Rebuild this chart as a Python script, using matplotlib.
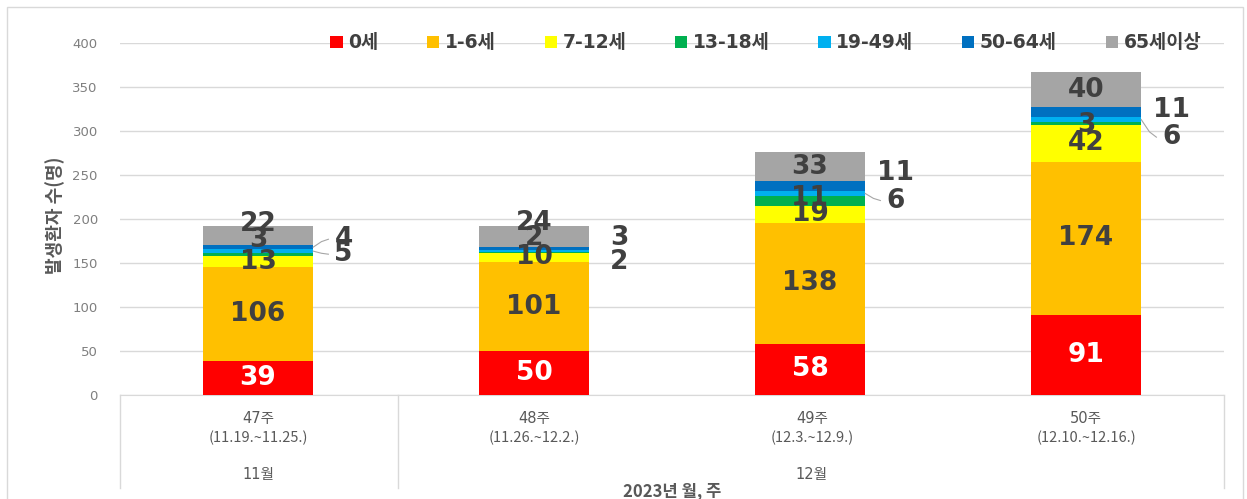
import matplotlib
matplotlib.use("Agg")
import matplotlib.pyplot as plt
import matplotlib.patches as patches
from matplotlib.lines import Line2D
import numpy as np

# 데이터
weeks = ["47주", "48주", "49주", "50주"]
week_ranges = ["(11.19.~11.25.)", "(11.26.~12.2.)", "(12.3.~12.9.)", "(12.10.~12.16.)"]
months = ["11월", "12월"]
age_groups = ["0세", "1-6세", "7-12세", "13-18세", "19-49세", "50-64세", "65세이상"]
age_0 = [39, 50, 58, 91]
age_1_6 = [106, 101, 138, 174]
age_7_12 = [13, 10, 19, 42]
age_13_18 = [3, 2, 11, 3]
age_19_49 = [5, 2, 6, 6]
age_50_64 = [4, 3, 11, 11]
age_65 = [22, 24, 33, 40]
y_ticks = [0, 50, 100, 150, 200, 250, 300, 350, 400]

colors = ["#FF0000", "#FFC000", "#FFFF00", "#00B050", "#00B0F0", "#0070C0", "#A5A5A5"]
series = [age_0, age_1_6, age_7_12, age_13_18, age_19_49, age_50_64, age_65]

# 라벨 배치 (엑셀 자동 배치 흉내) : (주, 계열) -> (y, 바깥?, 지시선?)
label_pos = {
    (0, 3): (176, False, False), (0, 4): (160, True, True), (0, 5): (177, True, True), (0, 6): (194, False, False),
    (1, 2): (157, False, False), (1, 3): (178, False, False), (1, 4): (151, True, False),
    (1, 5): (178, True, False), (1, 6): (195, False, False),
    (2, 3): (224, False, False), (2, 4): (221, True, True), (2, 5): (252, True, False),
    (3, 3): (307, False, False), (3, 4): (293, True, True), (3, 5): (324, True, False),
}

W, H = 1247, 499
fig = plt.figure(figsize=(W / 100, H / 100), dpi=100)
fig.patch.set_facecolor("white")


def fx(px):
    return px / W


def fy(py):
    return 1 - py / H


ax = fig.add_axes([fx(120), fy(395), fx(1224) - fx(120), fy(43) - fy(395)])
x = np.arange(len(weeks))
bottom = np.zeros(len(weeks))
bar_w = 0.4
for si, vals in enumerate(series):
    vals = np.array(vals, dtype=float)
    ax.bar(x, vals, bar_w, bottom=bottom, color=colors[si], label=age_groups[si], zorder=3)
    for wi in range(len(weeks)):
        mid = bottom[wi] + vals[wi] / 2
        ly, outside, leader = label_pos.get((wi, si), (mid, False, False))
        txt_color = "white" if si == 0 else "#404040"
        if outside:
            lx = x[wi] + 0.31
            if leader:
                ax.plot([x[wi] + bar_w / 2, x[wi] + 0.23, x[wi] + 0.255], [mid, mid + (ly - mid) * 0.7, ly],
                        color="#A6A6A6", lw=0.8, zorder=4)
        else:
            lx = x[wi]
        ax.text(lx, ly, str(int(vals[wi])), ha="center", va="center", fontsize=19,
                fontweight="bold", color=txt_color, family="DejaVu Sans", zorder=5)
    bottom += vals

ax.set_xlim(-0.5, len(weeks) - 0.5)
ax.set_ylim(0, 400)
ax.set_yticks(y_ticks)
ax.set_yticklabels([str(t) for t in y_ticks], color="#7F7F7F", fontsize=9.5, family="DejaVu Sans")
ax.tick_params(axis="y", length=0, pad=16)
ax.set_xticks([])
ax.grid(axis="y", color="#D9D9D9", lw=1, zorder=0)
for s in ["top", "right", "left"]:
    ax.spines[s].set_visible(False)
ax.spines["bottom"].set_color("#D9D9D9")

ax.legend(loc="center", bbox_to_anchor=(0.585, 1.0), ncol=7, frameon=False,
          handlelength=0.65, handleheight=0.65, handletextpad=0.3, columnspacing=2.6,
          prop={"family": ["DejaVu Sans", "Noto Sans CJK KR"], "weight": "bold", "size": 13.5},
          labelcolor="#404040")

fig.text(fx(55), fy(215), "발생환자 수(명)", rotation=90, ha="center", va="center",
         fontsize=13, fontweight="bold", color="#595959", family="Noto Sans CJK KR")

# 아래 분류 표
for px in [120, 398, 1224]:
    fig.add_artist(Line2D([fx(px), fx(px)], [fy(395), fy(488)], color="#D9D9D9", lw=1))
centers = [258, 534, 812, 1086]
for i in range(len(weeks)):
    fig.text(fx(centers[i]), fy(418), weeks[i], ha="center", va="center", fontsize=10.5,
             color="#595959", family=["DejaVu Sans", "Noto Sans CJK KR"])
    fig.text(fx(centers[i]), fy(438), week_ranges[i], ha="center", va="center", fontsize=10.5,
             color="#595959", family="Noto Sans CJK KR")
fig.text(fx(258), fy(474), months[0], ha="center", va="center", fontsize=10.5,
         color="#595959", family=["DejaVu Sans", "Noto Sans CJK KR"])
fig.text(fx(811), fy(474), months[1], ha="center", va="center", fontsize=10.5,
         color="#595959", family=["DejaVu Sans", "Noto Sans CJK KR"])
fig.text(fx(672), fy(491), "2023년 월, 주", ha="center", va="center", fontsize=12,
         fontweight="bold", color="#595959", family="Noto Sans CJK KR")

fig.add_artist(patches.Rectangle((fx(7), fy(505)), fx(1243) - fx(7), fy(7) - fy(505),
                                 fill=False, edgecolor="#D9D9D9", lw=1))

fig.savefig("out.png", dpi=100, facecolor="white")
